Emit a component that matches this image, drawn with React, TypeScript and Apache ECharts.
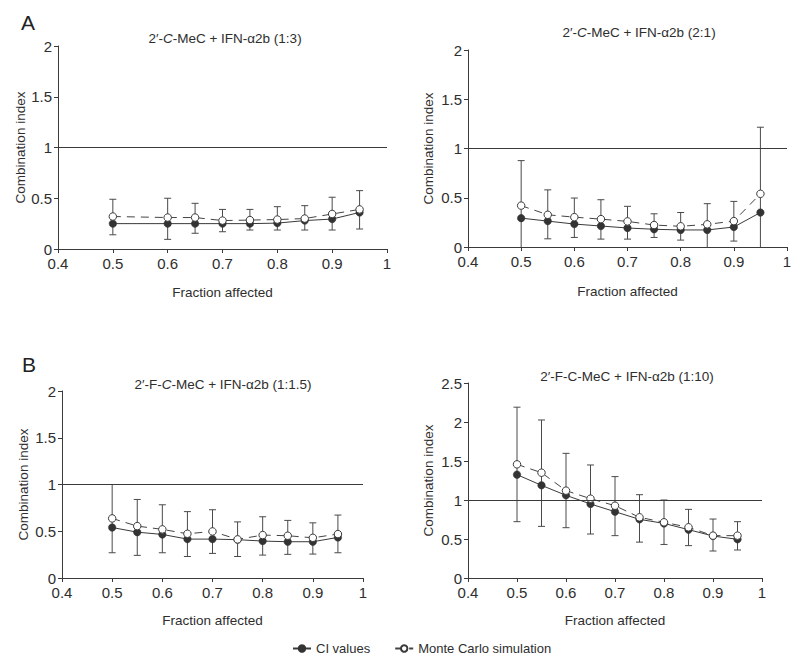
import React, { useEffect, useRef } from 'react';
import * as echarts from 'echarts';

// Fraction affected (x values)
const FA_A1 = [0.5, 0.6, 0.65, 0.7, 0.75, 0.8, 0.85, 0.9, 0.95];
const FA = [0.5, 0.55, 0.6, 0.65, 0.7, 0.75, 0.8, 0.85, 0.9, 0.95];

// Panel A, left: 2'-C-MeC + IFN-a2b (1:3)
const A1_CI = [0.25, 0.25, 0.25, 0.25, 0.25, 0.255, 0.28, 0.295, 0.36];
const A1_MC = [0.32, 0.31, 0.31, 0.28, 0.285, 0.29, 0.3, 0.345, 0.39];
const A1_LOW = [0.14, 0.095, 0.155, 0.17, 0.187, 0.187, 0.187, 0.187, 0.197];
const A1_HIGH = [0.49, 0.5, 0.45, 0.39, 0.39, 0.417, 0.427, 0.51, 0.575];

// Panel A, right: 2'-C-MeC + IFN-a2b (2:1)
const A2_CI = [0.293, 0.263, 0.233, 0.213, 0.193, 0.18, 0.173, 0.173, 0.203, 0.35];
const A2_MC = [0.42, 0.327, 0.303, 0.283, 0.26, 0.223, 0.21, 0.23, 0.263, 0.54];
const A2_LOW = [0, 0.083, 0.097, 0.08, 0.08, 0.097, 0.07, 0, 0.06, 0];
const A2_HIGH = [0.877, 0.58, 0.497, 0.48, 0.413, 0.337, 0.35, 0.44, 0.463, 1.216];

// Panel B, left: 2'-F-C-MeC + IFN-a2b (1:1.5)
const B1_CI = [0.54, 0.49, 0.466, 0.416, 0.416, 0.41, 0.395, 0.388, 0.388, 0.434];
const B1_MC = [0.637, 0.555, 0.52, 0.473, 0.498, 0.413, 0.459, 0.452, 0.43, 0.47];
const B1_LOW = [0.27, 0.242, 0.27, 0.23, 0.263, 0.23, 0.245, 0.253, 0.256, 0.27];
const B1_HIGH = [1.0, 0.84, 0.783, 0.71, 0.73, 0.6, 0.655, 0.616, 0.59, 0.673];

// Panel B, right: 2'-F-C-MeC + IFN-a2b (1:10)
const B2_CI = [1.325, 1.188, 1.06, 0.949, 0.85, 0.752, 0.7, 0.62, 0.538, 0.496];
const B2_MC = [1.457, 1.35, 1.12, 1.017, 0.927, 0.778, 0.714, 0.65, 0.543, 0.543];
const B2_LOW = [0.722, 0.662, 0.645, 0.564, 0.543, 0.46, 0.43, 0.415, 0.346, 0.359];
const B2_HIGH = [2.19, 2.026, 1.598, 1.449, 1.3, 1.068, 1.0, 0.88, 0.756, 0.722];

const TITLES = [
  '2′-{i|C}-MeC + IFN-α2b (1:3)',
  '2′-{i|C}-MeC + IFN-α2b (2:1)',
  '2′-F-{i|C}-MeC + IFN-α2b (1:1.5)',
  '2′-F-C-MeC + IFN-α2b (1:10)',
];
const Y_MAX = [2, 2, 2, 2.5];
const SERIES_CI = 'CI values';
const SERIES_MC = 'Monte Carlo simulation';
const X_NAME = 'Fraction affected';
const Y_NAME = 'Combination index';

const FONT = '"Liberation Sans", Arial, Helvetica, sans-serif';
const AXIS_COLOR = '#3a3a3a';
const TEXT_COLOR = '#2e2e2e';
const POINT_COLOR = '#333333';

const panels = [
  { xs: FA_A1, ci: A1_CI, mc: A1_MC, low: A1_LOW, high: A1_HIGH },
  { xs: FA, ci: A2_CI, mc: A2_MC, low: A2_LOW, high: A2_HIGH },
  { xs: FA, ci: B1_CI, mc: B1_MC, low: B1_LOW, high: B1_HIGH },
  { xs: FA, ci: B2_CI, mc: B2_MC, low: B2_LOW, high: B2_HIGH },
];

const grids = [
  { left: 58, top: 46, width: 329, height: 203 },
  { left: 468, top: 50, width: 319, height: 197 },
  { left: 62, top: 391, width: 301, height: 187 },
  { left: 468, top: 383, width: 294, height: 195 },
];
const titlePos = [
  { x: 220, y: 26 },
  { x: 634, y: 20 },
  { x: 218, y: 372 },
  { x: 622, y: 364 },
];
const yNameGap = [27, 33, 32, 33];
const xNameGap = [36, 37, 35, 35];

const errRender = (params: any, api: any) => {
  const x = api.value(0);
  const lo = api.value(1);
  const hi = api.value(2);
  const pLo = api.coord([x, lo]);
  const pHi = api.coord([x, hi]);
  const w = 3.5;
  const style = { stroke: '#4a4a4a', lineWidth: 1 };
  const children: any[] = [
    { type: 'line', shape: { x1: pLo[0], y1: pLo[1], x2: pHi[0], y2: pHi[1] }, style },
    { type: 'line', shape: { x1: pHi[0] - w, y1: pHi[1], x2: pHi[0] + w, y2: pHi[1] }, style },
  ];
  if (lo > 0) {
    children.push({ type: 'line', shape: { x1: pLo[0] - w, y1: pLo[1], x2: pLo[0] + w, y2: pLo[1] }, style });
  }
  return { type: 'group', children };
};

function buildOption() {
  const title: any[] = TITLES.map((t, i) => ({
    text: t,
    left: titlePos[i].x,
    top: titlePos[i].y,
    textAlign: 'center',
    textStyle: {
      fontFamily: FONT,
      fontSize: 13.5,
      fontWeight: 'normal',
      color: TEXT_COLOR,
      rich: {
        i: { fontFamily: FONT, fontSize: 13.5, fontStyle: 'italic', color: TEXT_COLOR },
      },
    },
  }));
  title.push({ text: 'A', left: 16, top: 7, textStyle: { fontFamily: FONT, fontSize: 21, fontWeight: 500, color: '#222' } });
  title.push({ text: 'B', left: 17, top: 349, textStyle: { fontFamily: FONT, fontSize: 21, fontWeight: 500, color: '#222' } });

  const xAxis = grids.map((_, i) => ({
    type: 'value',
    gridIndex: i,
    min: 0.4,
    max: 1,
    interval: 0.1,
    name: X_NAME,
    nameLocation: 'middle',
    nameGap: xNameGap[i],
    nameTextStyle: { fontFamily: FONT, fontSize: 13.5, color: TEXT_COLOR },
    axisLine: { show: true, onZero: false, lineStyle: { color: AXIS_COLOR, width: 1 } },
    axisTick: { show: true, inside: false, length: 4, lineStyle: { color: AXIS_COLOR } },
    axisLabel: {
      fontFamily: FONT,
      fontSize: 15,
      color: TEXT_COLOR,
      margin: 7,
      formatter: (v: number) => String(Math.round(v * 10) / 10),
    },
    splitLine: { show: false },
  }));

  const yAxis = grids.map((_, i) => ({
    type: 'value',
    gridIndex: i,
    min: 0,
    max: Y_MAX[i],
    interval: 0.5,
    name: Y_NAME,
    nameLocation: 'middle',
    nameGap: yNameGap[i],
    nameRotate: 90,
    nameTextStyle: { fontFamily: FONT, fontSize: 13.5, color: TEXT_COLOR },
    axisLine: { show: true, lineStyle: { color: AXIS_COLOR, width: 1 } },
    axisTick: { show: true, inside: false, length: 4, lineStyle: { color: AXIS_COLOR } },
    axisLabel: {
      fontFamily: FONT,
      fontSize: 15,
      color: TEXT_COLOR,
      margin: 6,
      formatter: (v: number) => String(v),
    },
    splitLine: { show: false },
  }));

  const series: any[] = [];
  panels.forEach((p, i) => {
    series.push({
      type: 'custom',
      name: 'err' + i,
      xAxisIndex: i,
      yAxisIndex: i,
      renderItem: errRender,
      encode: { x: 0, y: [1, 2] },
      data: p.xs.map((x, k) => [x, p.low[k], p.high[k]]),
      z: 1,
      silent: true,
    });
    series.push({
      type: 'line',
      name: SERIES_CI,
      xAxisIndex: i,
      yAxisIndex: i,
      data: p.xs.map((x, k) => [x, p.ci[k]]),
      symbol: 'circle',
      symbolSize: 7.5,
      showSymbol: true,
      lineStyle: { color: '#3a3a3a', width: 1, type: 'solid' },
      itemStyle: { color: POINT_COLOR, borderColor: POINT_COLOR, borderWidth: 0.5 },
      z: 3,
      markLine: {
        silent: true,
        symbol: ['none', 'none'],
        label: { show: false },
        lineStyle: { color: AXIS_COLOR, width: 1, type: 'solid' },
        data: [{ yAxis: 1 }],
        animation: false,
      },
    });
    series.push({
      type: 'line',
      name: SERIES_MC,
      xAxisIndex: i,
      yAxisIndex: i,
      data: p.xs.map((x, k) => [x, p.mc[k]]),
      symbol: 'circle',
      symbolSize: 7.5,
      showSymbol: true,
      lineStyle: { color: '#444', width: 1, type: [8, 6] },
      itemStyle: { color: '#ffffff', borderColor: '#3a3a3a', borderWidth: 1 },
      z: 4,
    });
  });

  return {
    animation: false,
    backgroundColor: '#ffffff',
    textStyle: { fontFamily: FONT },
    title,
    grid: grids.map((g) => ({ ...g, containLabel: false })),
    xAxis,
    yAxis,
    legend: {
      data: [SERIES_CI, SERIES_MC],
      left: 287,
      top: 637,
      itemWidth: 18,
      itemHeight: 8,
      itemGap: 24,
      textStyle: { fontFamily: FONT, fontSize: 13, color: TEXT_COLOR },
      selectedMode: false,
    },
    series,
  };
}

export default function App() {
  const ref = useRef<HTMLDivElement>(null);
  useEffect(() => {
    if (!ref.current) return;
    const chart = echarts.init(ref.current, undefined, { renderer: 'svg' });
    chart.setOption(buildOption() as any);
    return () => chart.dispose();
  }, []);
  return (
    <div
      ref={ref}
      style={{ position: 'fixed', left: 0, top: 0, width: 800, height: 663, background: '#fff' }}
    />
  );
}
